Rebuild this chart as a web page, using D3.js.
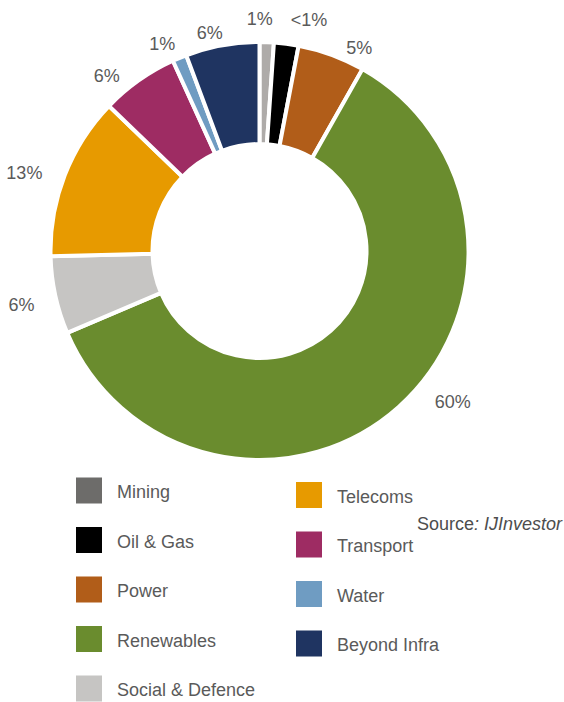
<!DOCTYPE html>
<html>
<head>
<meta charset="utf-8">
<script src="https://cdn.jsdelivr.net/npm/d3@7"></script>
<style>
  html, body { margin: 0; padding: 0; background: #fff; }
  svg { display: block; }
  text { font-family: "Liberation Sans", Arial, Helvetica, sans-serif; }
</style>
</head>
<body>
<svg id="chart" width="564" height="702"></svg>
<script>
// Share of deals by sector (%), clockwise from 12 o'clock
const sectors = ["Mining", "Oil & Gas", "Power", "Renewables", "Social & Defence",
                 "Telecoms", "Transport", "Water", "Beyond Infra"];
const shares = [1.1, 1.9, 5.2, 60.4, 6.0, 12.6, 6.0, 1.1, 5.7];
const shareLabels = ["1%", "<1%", "5%", "60%", "6%", "13%", "6%", "1%", "6%"];

// Legend layout: two columns
const legendColumn1 = ["Mining", "Oil & Gas", "Power", "Renewables", "Social & Defence"];
const legendColumn2 = ["Telecoms", "Transport", "Water", "Beyond Infra"];

const sourceText = "Source";
const sourceName = ": IJInvestor";

// Styling
const sliceColor = d3.scaleOrdinal()
  .domain(sectors)
  .range(["#aeaba9", "#000000", "#b15d19", "#6a8c2e", "#c6c5c3",
          "#e79a00", "#9e2c63", "#6f9cc2", "#1f3461"]);
const legendColor = d3.scaleOrdinal()
  .domain(sectors)
  .range(["#6d6c6a", "#000000", "#b15d19", "#6a8c2e", "#c6c5c3",
          "#e79a00", "#9e2c63", "#6f9cc2", "#1f3461"]);

// Outside-label nudges (degrees from slice mid-angle, radius in px)
const labelNudge = {
  "Mining": [-1.9, 232], "Oil & Gas": [4.7, 237], "Power": [5.9, 227],
  "Renewables": [-10.3, 245], "Social & Defence": [-0.5, 244],
  "Telecoms": [-2.7, 248], "Transport": [-5.7, 233], "Water": [-2.6, 229],
  "Beyond Infra": [-2.6, 224]
};

const svg = d3.select("#chart");
const cx = 259.5, cy = 251;
const outerR = 209, innerR = 107;
const textColor = "#5a5a5a";

const pie = d3.pie().sort(null).value(d => d.value)
  .startAngle(0).endAngle(2 * Math.PI);
const arcs = pie(sectors.map((s, i) => ({ sector: s, value: shares[i], label: shareLabels[i] })));
const arc = d3.arc().innerRadius(innerR).outerRadius(outerR);

const g = svg.append("g").attr("transform", `translate(${cx},${cy})`);

g.selectAll("path.slice")
  .data(arcs)
  .join("path")
  .attr("class", "slice")
  .attr("d", arc)
  .attr("fill", d => sliceColor(d.data.sector))
  .attr("stroke", "#fff")
  .attr("stroke-width", 4)
  .attr("stroke-linejoin", "miter");

g.selectAll("text.pct")
  .data(arcs)
  .join("text")
  .attr("class", "pct")
  .attr("transform", d => {
    const [shift, r] = labelNudge[d.data.sector];
    const a = (d.startAngle + d.endAngle) / 2 + shift * Math.PI / 180;
    return `translate(${r * Math.sin(a)},${-r * Math.cos(a)})`;
  })
  .attr("text-anchor", "middle")
  .attr("dy", "0.36em")
  .attr("font-size", 18)
  .attr("fill", textColor)
  .text(d => d.data.label);

// Legend
const rowStep = 49.5;
function drawLegendColumn(items, x, y0) {
  const rows = svg.append("g").selectAll("g")
    .data(items)
    .join("g")
    .attr("transform", (d, i) => `translate(${x},${y0 + i * rowStep})`);
  rows.append("rect")
    .attr("width", 26).attr("height", 26)
    .attr("fill", d => legendColor(d));
  rows.append("text")
    .attr("x", 41).attr("y", 13).attr("dy", "0.42em")
    .attr("font-size", 18)
    .attr("fill", textColor)
    .text(d => d);
}
drawLegendColumn(legendColumn1, 76, 477.5);
drawLegendColumn(legendColumn2, 296, 482);

// Source note
const src = svg.append("text")
  .attr("x", 562).attr("y", 529.5)
  .attr("text-anchor", "end")
  .attr("font-size", 18)
  .attr("fill", "#4d4d4d");
src.append("tspan").text(sourceText);
src.append("tspan").attr("font-style", "italic").text(sourceName);
</script>
</body>
</html>
